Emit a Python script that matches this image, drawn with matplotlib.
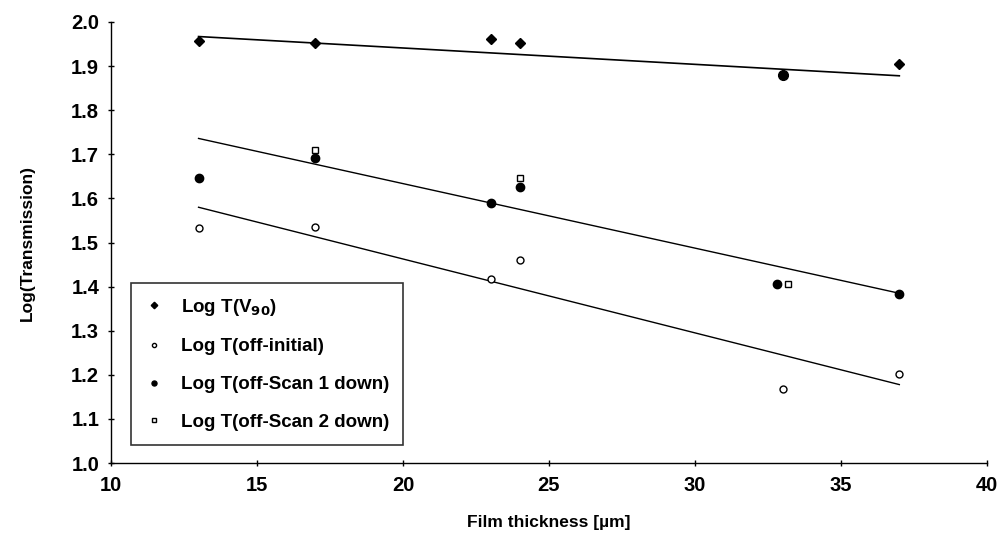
import matplotlib
matplotlib.use("Agg")
import matplotlib.pyplot as plt

plt.rcParams["font.family"] = ["Liberation Sans", "DejaVu Sans"]
plt.rcParams["font.weight"] = "bold"

# film thickness [um]
thick = [13, 17, 23, 24, 33, 37]

log_v90 = [1.958, 1.952, 1.961, 1.953, 1.880, 1.905]
log_off_init = [1.534, 1.536, 1.417, 1.460, 1.167, 1.203]

thick_scan1 = [13, 17, 23, 24, 32.8, 37]
log_scan1 = [1.646, 1.691, 1.589, 1.625, 1.406, 1.383]

thick_scan2 = [17, 24, 33.2]
log_scan2 = [1.710, 1.647, 1.407]

# trend lines as drawn in the original (values at 13 and 37 um)
fit_x = [13, 37]
fit_v90 = [1.967, 1.878]
fit_scan1 = [1.736, 1.385]
fit_off_init = [1.580, 1.178]

fig = plt.figure(figsize=(10.05, 5.36), dpi=100)
ax = fig.add_axes([0.1104, 0.136, 0.8716, 0.823])

ax.plot(fit_x, fit_v90, color="black", lw=1.2)
ax.plot(fit_x, fit_scan1, color="black", lw=1.0)
ax.plot(fit_x, fit_off_init, color="black", lw=1.0)

ax.plot(thick, log_v90, "D", color="black", ms=5.5, ls="none",
        label=r"Log T(V$_{90}$)")
# the 33 um point shows up as a round dot in the original
ax.plot(thick[4], log_v90[4], "o", color="black", ms=7, ls="none")
ax.plot(thick, log_off_init, "o", mfc="white", mec="black", mew=1.0, ms=5,
        ls="none", label="Log T(off-initial)")
ax.plot(thick_scan1, log_scan1, "o", color="black", ms=6, ls="none",
        label="Log T(off-Scan 1 down)")
ax.plot(thick_scan2, log_scan2, "s", mfc="white", mec="black", mew=1.0, ms=4.5,
        ls="none", label="Log T(off-Scan 2 down)")

ax.set_xlim(10, 40)
ax.set_ylim(1.0, 2.0)
ax.set_xticks(range(10, 41, 5))
ax.set_yticks([1.0 + 0.1 * i for i in range(11)])
ax.set_yticklabels([f"{1.0 + 0.1 * i:.1f}" for i in range(11)])

for s in ["top", "right"]:
    ax.spines[s].set_visible(False)
for s in ["left", "bottom"]:
    ax.spines[s].set_linewidth(1.0)

ax.tick_params(axis="both", direction="inout", length=5, width=1, labelsize=14.5)
ax.tick_params(axis="x", pad=7)
ax.tick_params(axis="y", pad=6)
for lab in ax.get_xticklabels() + ax.get_yticklabels():
    lab.set_fontweight("bold")

ax.set_xlabel("Film thickness [µm]", fontsize=12.5, fontweight="bold", labelpad=14)
ax.set_ylabel("Log(Transmission)", fontsize=12.5, fontweight="bold", labelpad=26)

leg = ax.legend(loc="lower left", bbox_to_anchor=(0.012, 0.02), frameon=True,
                fancybox=False, edgecolor="black", fontsize=13.5, markerscale=0.6,
                handlelength=1.0, handletextpad=0.9, labelspacing=1.1,
                borderpad=0.75)
leg.get_frame().set_linewidth(1.2)
for t in leg.get_texts():
    t.set_fontweight("bold")

fig.savefig("out.png", dpi=100)
